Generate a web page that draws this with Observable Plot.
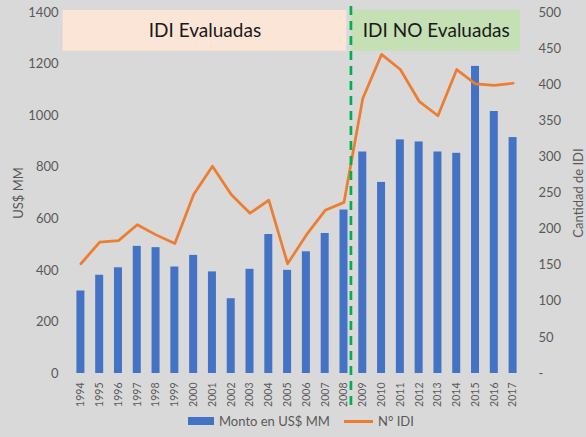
<!DOCTYPE html>
<html><head><meta charset="utf-8">
<script src="https://cdn.jsdelivr.net/npm/d3@7"></script>
<script src="https://cdn.jsdelivr.net/npm/@observablehq/plot@0.6"></script>
<style>
html,body{margin:0;padding:0;background:#d9d9d9;}
#chart{width:586px;height:437px;position:relative;font-family:Lato,sans-serif;background:#d9d9d9;overflow:hidden;}
#legend{position:absolute;left:0;top:405px;width:586px;height:32px;font-family:Lato,sans-serif;font-size:13px;color:#595959;}
#legend .item{position:absolute;top:0;display:flex;align-items:center;height:32px;}
#legend .sw{display:inline-block;margin-right:5px;}
</style></head><body><div id="chart"></div><script>
const years = [1994,1995,1996,1997,1998,1999,2000,2001,2002,2003,2004,2005,2006,2007,2008,2009,2010,2011,2012,2013,2014,2015,2016,2017];
const monto = [320,381,410,493,488,413,458,394,290,404,539,400,472,543,634,859,741,906,898,859,854,1191,1016,915];
const idi = [152,182,184,206,192,180,248,287,248,222,240,152,192,226,237,381,442,421,377,357,421,401,399,402];
const leftTicks = [0,200,400,600,800,1000,1200,1400];
const rightTicks = [0,50,100,150,200,250,300,350,400,450,500];
const spanLabels = ["IDI Evaluadas","IDI NO Evaluadas"];
const spanStart = [1993.05, 2008.42];
const spanEnd = [2008.15, 2017.4];
const spanFill = ["#fbe5d6","#c5e0b4"];
const splitYear = 2008.37;
const leftMax = 1400, rightMax = 500;
const ratio = leftMax / rightMax;

const rows = years.map((year, i) => ({year, monto: monto[i], idi: idi[i]}));
const spans = spanLabels.map((label, i) => ({label, x1: spanStart[i], x2: spanEnd[i], fill: spanFill[i]}));

const plot = Plot.plot({
  width: 586, height: 405,
  marginLeft: 71, marginRight: 64, marginTop: 12, marginBottom: 32,
  style: {background: "#d9d9d9", color: "#595959", fontFamily: "Lato, sans-serif", overflow: "visible"},
  x: {type: "linear", domain: [1993.5, 2017.5]},
  y: {domain: [0, leftMax]},
  marks: [
    Plot.rect(spans, {x1: "x1", x2: "x2", y1: 1250, y2: 1408, fill: "fill"}),
    Plot.text(spans, {x: d => (d.x1 + d.x2) / 2, y: 1329, text: "label", fontSize: 19, fill: "#1a1a1a", fontFamily: "Lato, sans-serif"}),
    Plot.rectY(rows, {x1: d => d.year - 0.5, x2: d => d.year + 0.5, y: "monto", insetLeft: 5.4, insetRight: 5.4, fill: "#4472c4"}),
    Plot.lineY(rows, {x: "year", y: d => d.idi * ratio, stroke: "#ed7d31", strokeWidth: 2.75, strokeLinejoin: "round"}),
    Plot.ruleX([splitYear], {stroke: "#00b050", strokeWidth: 2.7, strokeDasharray: "9,6", insetTop: -6, insetBottom: -35}),
    Plot.axisY(leftTicks, {anchor: "left", tickSize: 0, tickPadding: 13, fontSize: 13, tickFormat: v => String(v),
      label: "US$ MM", labelAnchor: "center", labelOffset: 58, labelArrow: "none"}),
    Plot.axisY(rightTicks.map(v => v * ratio), {anchor: "right", tickSize: 0, tickPadding: 16, fontSize: 13, textAnchor: "start",
      tickFormat: v => { const r = Math.round(v / ratio); return r === 0 ? "-" : String(r); },
      label: "Cantidad de IDI", labelAnchor: "center", labelOffset: 60, labelArrow: "none"}),
    Plot.axisX(years, {tickSize: 0, tickRotate: -90, tickPadding: 9, fontSize: 10.5, tickFormat: d => String(d), label: null})
  ]
});
plot.style.position = "absolute"; plot.style.left = "0"; plot.style.top = "0";
document.getElementById("chart").appendChild(plot);
const legend = document.createElement("div");
legend.id = "legend";
legend.innerHTML = `<div class="item" style="left:188px"><span class="sw" style="width:26px;height:8px;background:#4472c4"></span>Monto en US$ MM</div>
<div class="item" style="left:344px"><span class="sw" style="width:29px;height:3px;background:#ed7d31"></span>N° IDI</div>`;
document.getElementById("chart").appendChild(legend);
</script></body></html>
